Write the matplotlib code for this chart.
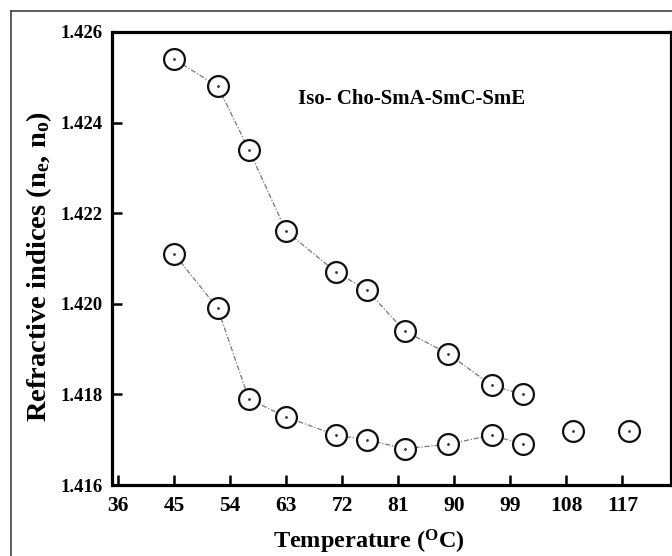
import matplotlib
matplotlib.use("Agg")
import matplotlib.pyplot as plt
from matplotlib.lines import Line2D

plt.rcParams['font.family'] = ['Liberation Serif', 'DejaVu Serif']
plt.rcParams['font.weight'] = 'bold'
plt.rcParams['mathtext.fontset'] = 'custom'
plt.rcParams['mathtext.rm'] = 'Liberation Serif:bold'
plt.rcParams['mathtext.it'] = 'Liberation Serif:bold'
plt.rcParams['mathtext.bf'] = 'Liberation Serif:bold'

# ---- data ----
temp = [45, 52, 57, 63, 71, 76, 82, 89, 96, 101]
n_e = [1.4254, 1.4248, 1.4234, 1.4216, 1.4207, 1.4203, 1.4194, 1.4189, 1.4182, 1.4180]
n_o = [1.4211, 1.4199, 1.4179, 1.4175, 1.4171, 1.4170, 1.4168, 1.4169, 1.4171, 1.4169]
temp_iso = [109, 118]
n_iso = [1.4172, 1.4172]
xticks = [36, 45, 54, 63, 72, 81, 90, 99, 108, 117]
yticks = [1.416, 1.418, 1.420, 1.422, 1.424, 1.426]
phase_text = "Iso- Cho-SmA-SmC-SmE"

W, H = 672, 556
fig = plt.figure(figsize=(W / 100, H / 100), dpi=100)
ax_l, ax_r, ax_t, ax_b = 112.5, 671, 32, 485
ax = fig.add_axes([ax_l / W, 1 - ax_b / H, (ax_r - ax_l) / W, (ax_b - ax_t) / H])

line_kw = dict(color='#777777', lw=0.9, linestyle=(0, (4, 1.5, 1, 1.5)), zorder=1)
mk_kw = dict(marker='o', ms=15, mfc='white', mec='#111111', mew=1.6, zorder=2)

for ys in (n_e, n_o):
    ax.plot(temp, ys, **line_kw)
    ax.plot(temp, ys, linestyle='none', **mk_kw)
    ax.plot(temp, ys, linestyle='none', marker='.', ms=2, color='#333333', zorder=3)
ax.plot(temp_iso, n_iso, linestyle='none', **mk_kw)
ax.plot(temp_iso, n_iso, linestyle='none', marker='.', ms=2, color='#333333', zorder=3)

ax.set_xlim(35.1, 124.8)
ax.set_ylim(1.416, 1.426)
ax.set_xticks(xticks)
ax.set_yticks(yticks)
ax.set_xticklabels([str(v) for v in xticks], fontsize=15.5, fontweight='bold')
ax.set_yticklabels([f"{v:.3f}" for v in yticks], fontsize=13.5, fontweight='bold')
ax.tick_params(axis='both', direction='in', length=7, width=1.8, color='black')
ax.tick_params(axis='y', pad=7)
ax.tick_params(axis='x', pad=8)
for s in ax.spines.values():
    s.set_linewidth(2.3)

ax.set_xlabel(r'Temperature ($^{\mathrm{O}}$C)', fontsize=17.5, fontweight='bold')
ax.xaxis.set_label_coords((369 - ax_l) / (ax_r - ax_l), -(528 - ax_b) / (ax_b - ax_t))
ax.set_ylabel(r'Refractive indices (n$_{\mathrm{e}}$, n$_{\mathrm{o}}$)', fontsize=20.5, fontweight='bold',
              va='center', ha='center', rotation_mode='anchor')
ax.yaxis.set_label_coords(-(ax_l - 39) / (ax_r - ax_l), (ax_b - 267) / (ax_b - ax_t))

ax.text(83.1, 1.42452, phase_text, fontsize=15, fontweight='bold', ha='center', va='center')

# outer frame
fig.add_artist(Line2D([11 / W, 11 / W], [0, 1 - 11 / H], transform=fig.transFigure, color='#333333', lw=1.1))
fig.add_artist(Line2D([11 / W, 1], [1 - 11 / H, 1 - 11 / H], transform=fig.transFigure, color='#333333', lw=1.1))

fig.savefig('out.png', dpi=100)
